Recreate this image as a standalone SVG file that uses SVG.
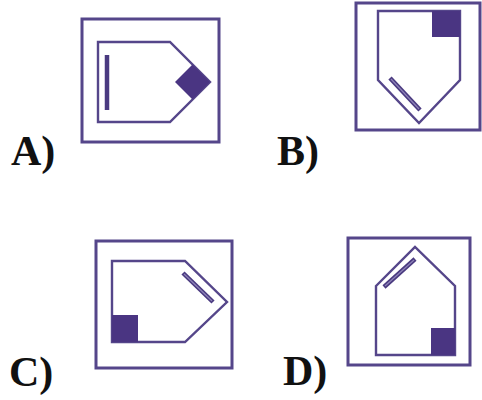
<svg xmlns="http://www.w3.org/2000/svg" width="482" height="400" viewBox="0 0 482 400">
<style>
.frame{fill:none;stroke:#55468a;stroke-width:3}
.shape{fill:none;stroke:#55468a;stroke-width:2.4;stroke-linejoin:miter}
.fill{fill:#4a3582;stroke:none}
.bar{stroke:#4a3a80;stroke-width:4.5;stroke-linecap:butt}
.core{stroke:#8f84b8;stroke-width:1.2;stroke-linecap:butt}
.lbl{font-weight:bold;font-size:42px;fill:#111}
</style>
<rect width="482" height="400" fill="#ffffff"/>
<g id="panelA">
<rect class="frame" x="82" y="19" width="137" height="123"/>
<path class="shape" d="M98,42 L170,42 L210,82 L170,122 L98,122 Z"/>
<line class="bar" x1="107" y1="55" x2="107" y2="110"/>
<polygon class="fill" points="175,82 192.5,64.5 210,82 192.5,99.5"/>
<text class="lbl" font-family="Liberation Serif, serif" x="11" y="165">A)</text>
</g>
<g id="panelB">
<rect class="frame" x="356" y="3" width="124" height="127"/>
<path class="shape" d="M378,11 L460,11 L460,80 L419,123 L378,80 Z"/>
<rect class="fill" x="432" y="11" width="28" height="26"/>
<line class="bar" x1="390" y1="78" x2="420" y2="110"/>
<line class="core" x1="391" y1="79" x2="419" y2="109"/>
<text class="lbl" font-family="Liberation Serif, serif" x="277" y="165">B)</text>
</g>
<g id="panelC">
<rect class="frame" x="96" y="241" width="136" height="127"/>
<path class="shape" d="M112,261 L185,261 L227,302 L185,342 L112,342 Z"/>
<rect class="fill" x="112" y="315" width="26" height="27"/>
<line class="bar" x1="183" y1="273" x2="213" y2="302"/>
<line class="core" x1="184" y1="274" x2="212" y2="301"/>
<text class="lbl" font-family="Liberation Serif, serif" x="9" y="386">C)</text>
</g>
<g id="panelD">
<rect class="frame" x="348" y="238" width="122" height="127"/>
<path class="shape" d="M376,286 L415,247 L455,286 L455,355 L376,355 Z"/>
<rect class="fill" x="431" y="328" width="24" height="27"/>
<line class="bar" x1="384" y1="287" x2="415" y2="259"/>
<line class="core" x1="385" y1="286" x2="414" y2="260"/>
<text class="lbl" font-family="Liberation Serif, serif" x="283" y="385">D)</text>
</g>
</svg>
